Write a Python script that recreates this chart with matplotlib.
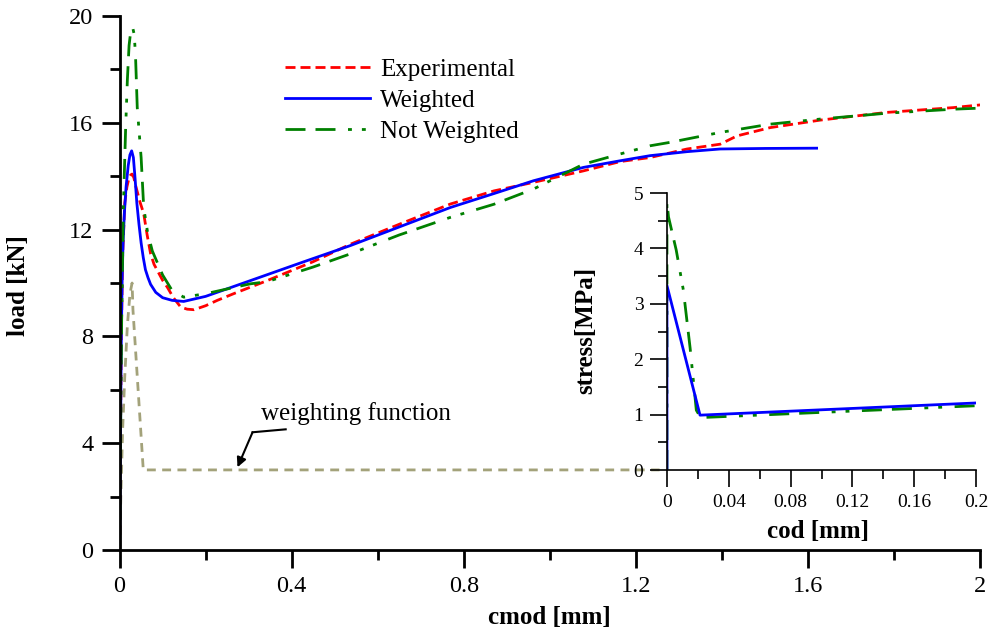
import matplotlib
matplotlib.use("Agg")
import matplotlib.pyplot as plt
from matplotlib.ticker import MultipleLocator, FuncFormatter

plt.rcParams['font.family'] = ['Liberation Serif', 'DejaVu Serif']

# main plot: load vs cmod
exp_x = [0, 0.002, 0.004, 0.007, 0.012, 0.017, 0.022, 0.026, 0.029, 0.033, 0.038, 0.043, 0.048,
         0.056, 0.064, 0.072, 0.08, 0.09, 0.1, 0.111, 0.125, 0.142, 0.157, 0.173, 0.2, 0.227,
         0.265, 0.343, 0.45, 0.536, 0.65, 0.769, 0.87, 0.962, 1.078, 1.164, 1.233, 1.319,
         1.396, 1.435, 1.512, 1.628, 1.783, 1.938, 2.0]
exp_y = [0, 4, 8, 11, 13, 13.6, 13.95, 14.05, 14.08, 13.95, 13.6, 13.3, 13.0,
         12.6, 11.8, 11.1, 10.7, 10.4, 10.1, 9.84, 9.45, 9.1, 9.02, 9.0, 9.15, 9.35,
         9.6, 10.09, 10.8, 11.45, 12.2, 12.96, 13.45, 13.77, 14.2, 14.55, 14.7, 15.02,
         15.2, 15.51, 15.82, 16.1, 16.39, 16.57, 16.67]

w_x = [0, 0.002, 0.004, 0.006, 0.008, 0.011, 0.015, 0.02, 0.024, 0.028, 0.032, 0.036, 0.04,
       0.045, 0.05, 0.055, 0.06, 0.066, 0.072, 0.084, 0.1, 0.122, 0.149, 0.2, 0.304, 0.42,
       0.536, 0.65, 0.769, 0.87, 0.962, 1.078, 1.164, 1.233, 1.319, 1.396, 1.5, 1.62]
w_y = [0, 4, 8, 10.2, 11.5, 12.6, 13.6, 14.4, 14.8, 14.95, 14.7, 13.9, 13.0,
       12.2, 11.5, 10.95, 10.5, 10.2, 9.95, 9.65, 9.45, 9.35, 9.31, 9.5, 10.09, 10.75,
       11.4, 12.1, 12.83, 13.35, 13.83, 14.33, 14.58, 14.77, 14.92, 15.02, 15.04, 15.05]

nw_x = [0, 0.002, 0.005, 0.009, 0.014, 0.018, 0.022, 0.026, 0.03, 0.034, 0.037, 0.041, 0.05,
        0.056, 0.065, 0.076, 0.1, 0.122, 0.149, 0.2, 0.304, 0.343, 0.45, 0.536, 0.65, 0.769,
        0.87, 0.962, 1.078, 1.156, 1.233, 1.28, 1.396, 1.512, 1.628, 1.783, 1.938, 2.0]
nw_y = [0, 4, 9, 13, 15.8, 17.6, 18.9, 19.45, 19.6, 19.3, 18.5, 16.57, 14.7,
        12.83, 11.9, 11.2, 10.3, 9.72, 9.47, 9.6, 9.97, 10.05, 10.6, 11.09, 11.8, 12.46,
        12.95, 13.52, 14.45, 14.8, 15.14, 15.27, 15.64, 15.95, 16.14, 16.36, 16.51, 16.55]

wf_x = [0, 0.003, 0.007, 0.012, 0.018, 0.024, 0.029, 0.031, 0.055, 1.255]
wf_y = [0, 2.1, 4.5, 6.5, 8.4, 9.6, 10.0, 9.0, 3.0, 3.0]

# inset: stress vs cod
cod_w = [0, 0, 0.0214, 0.2]
stress_w = [0, 3.33, 0.99, 1.21]
cod_nw = [0, 0, 0.001, 0.006, 0.0106, 0.015, 0.019, 0.0215, 0.025, 0.2]
stress_nw = [0, 4.85, 4.57, 3.97, 3.25, 2.2, 1.08, 0.96, 0.95, 1.16]

RED = '#ff0000'
BLUE = '#0000ff'
GREEN = '#008000'
OLIVE = '#a3a27a'
LW = 2.0
dash_red = (0, (3.6, 1.8))
dash_green = (0, (7.2, 3.6, 7.2, 4.5, 1.4, 3.6, 1.4, 4.5))
dash_olive = (0, (3.2, 2.3))

fig = plt.figure(figsize=(9.91, 6.33), dpi=100)
ax = fig.add_axes([0.1207, 0.1311, 0.8683, 0.8436])

ax.plot(wf_x, wf_y, color=OLIVE, lw=LW, linestyle=dash_olive)
ax.plot(exp_x, exp_y, color=RED, lw=LW, linestyle=dash_red, label='Experimental')
ax.plot(w_x, w_y, color=BLUE, lw=LW, label='Weighted')
ax.plot(nw_x, nw_y, color=GREEN, lw=LW, linestyle=dash_green, label='Not Weighted')

ax.set_xlim(0, 2)
ax.set_ylim(0, 20)
ax.xaxis.set_major_locator(MultipleLocator(0.4))
ax.xaxis.set_minor_locator(MultipleLocator(0.2))
ax.yaxis.set_major_locator(MultipleLocator(4))
ax.yaxis.set_minor_locator(MultipleLocator(2))
fmt = FuncFormatter(lambda v, p: f'{v:g}')
ax.xaxis.set_major_formatter(fmt)
ax.yaxis.set_major_formatter(fmt)
for s in ['top', 'right']:
    ax.spines[s].set_visible(False)
for s in ['left', 'bottom']:
    ax.spines[s].set_linewidth(2)
ax.tick_params(which='major', length=13, width=2, labelsize=17.5, pad=6)
ax.tick_params(which='minor', length=7, width=2)
ax.set_xlabel('cmod [mm]', fontsize=18, fontweight='bold')
ax.set_ylabel('load [kN]', fontsize=18, fontweight='bold')
ax.xaxis.set_label_coords(0.499, -0.105)
ax.yaxis.set_label_coords(-0.104, 0.495)

ax.legend(loc='upper left', bbox_to_anchor=(0.2876, 0.908), bbox_transform=fig.transFigure,
          frameon=False, fontsize=18, handlelength=3.4, handletextpad=0.4,
          labelspacing=0.35, borderpad=0, borderaxespad=0)

ax.text(0.5495, 5.12, 'weighting function', fontsize=18, ha='center', va='center')
ax.plot([0.386, 0.309], [4.52, 4.41], color='black', lw=1.5)
ax.annotate('', xy=(0.274, 3.1), xytext=(0.309, 4.41),
            arrowprops=dict(arrowstyle='-|>', color='black', lw=1.5,
                            mutation_scale=14, shrinkA=0, shrinkB=0))

# inset
ins = fig.add_axes([0.673, 0.2575, 0.312, 0.4376])
ins.patch.set_alpha(0)
ins.plot(cod_nw, stress_nw, color=GREEN, lw=LW, linestyle=dash_green)
ins.plot(cod_w, stress_w, color=BLUE, lw=LW)
ins.set_xlim(0, 0.2)
ins.set_ylim(0, 5)
ins.xaxis.set_major_locator(MultipleLocator(0.04))
ins.xaxis.set_minor_locator(MultipleLocator(0.02))
ins.yaxis.set_major_locator(MultipleLocator(1))
ins.yaxis.set_minor_locator(MultipleLocator(0.5))
ins.xaxis.set_major_formatter(fmt)
ins.yaxis.set_major_formatter(fmt)
for s in ['top', 'right']:
    ins.spines[s].set_visible(False)
for s in ['left', 'bottom']:
    ins.spines[s].set_linewidth(1.2)
ins.tick_params(which='major', length=12, width=1.2, labelsize=14, pad=5)
ins.tick_params(which='minor', length=6.5, width=1.2)
ins.set_xlabel('cod [mm]', fontsize=18, fontweight='bold')
ins.set_ylabel('stress[MPa]', fontsize=18, fontweight='bold')
ins.xaxis.set_label_coords(0.489, -0.18)
ins.yaxis.set_label_coords(-0.225, 0.505)

fig.savefig('out.png', dpi=100)
